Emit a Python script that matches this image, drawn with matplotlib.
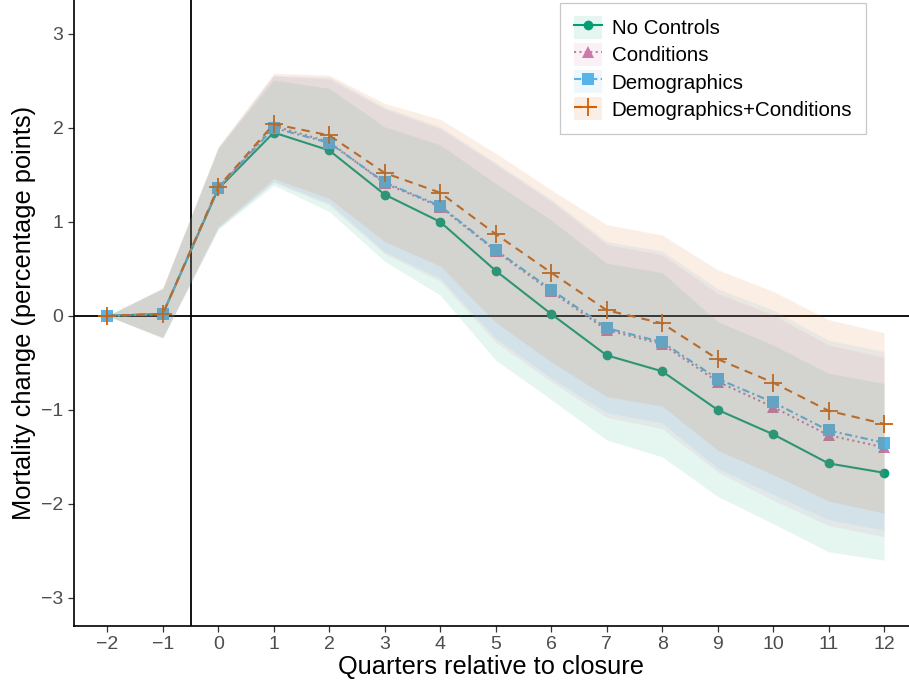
import numpy as np
import matplotlib.pyplot as plt
from matplotlib.lines import Line2D
from matplotlib.patches import Patch

plt.rcParams['font.family'] = ['Liberation Sans', 'DejaVu Sans']

quarters = [-2, -1, 0, 1, 2, 3, 4, 5, 6, 7, 8, 9, 10, 11, 12]

# No Controls
nc_est = [0, 0.02, 1.35, 1.95, 1.76, 1.29, 1.00, 0.48, 0.02, -0.42, -0.59, -1.00, -1.26, -1.57, -1.67]
nc_up = [0, 0.29, 1.78, 2.51, 2.42, 2.01, 1.82, 1.41, 1.02, 0.56, 0.46, -0.06, -0.31, -0.61, -0.72]
nc_lo = [0, -0.24, 0.92, 1.39, 1.11, 0.58, 0.22, -0.47, -0.89, -1.32, -1.50, -1.92, -2.21, -2.51, -2.60]
# Conditions
co_est = [0, 0.02, 1.36, 2.02, 1.85, 1.41, 1.16, 0.69, 0.26, -0.15, -0.30, -0.70, -0.97, -1.27, -1.40]
co_up = [0, 0.29, 1.79, 2.55, 2.52, 2.20, 1.99, 1.61, 1.22, 0.76, 0.65, 0.24, 0.01, -0.31, -0.44]
co_lo = [0, -0.23, 0.93, 1.42, 1.18, 0.66, 0.37, -0.28, -0.70, -1.08, -1.20, -1.66, -1.96, -2.23, -2.35]
# Demographics
de_est = [0, 0.02, 1.36, 2.00, 1.84, 1.42, 1.17, 0.70, 0.28, -0.13, -0.28, -0.67, -0.92, -1.22, -1.35]
de_up = [0, 0.29, 1.79, 2.56, 2.54, 2.22, 2.01, 1.63, 1.24, 0.79, 0.69, 0.29, 0.06, -0.26, -0.38]
de_lo = [0, -0.23, 0.94, 1.43, 1.20, 0.68, 0.40, -0.24, -0.66, -1.03, -1.14, -1.62, -1.90, -2.17, -2.28]
# Demographics+Conditions
dc_est = [0, 0.02, 1.37, 2.04, 1.92, 1.52, 1.31, 0.87, 0.46, 0.06, -0.08, -0.46, -0.71, -1.01, -1.15]
dc_up = [0, 0.30, 1.80, 2.58, 2.56, 2.26, 2.09, 1.73, 1.34, 0.97, 0.86, 0.49, 0.26, -0.04, -0.18]
dc_lo = [0, -0.23, 0.95, 1.46, 1.25, 0.79, 0.53, -0.07, -0.49, -0.86, -0.96, -1.43, -1.69, -1.97, -2.10]

labels = ["No Controls", "Conditions", "Demographics", "Demographics+Conditions"]
colors = ["#009E73", "#CC79A7", "#56B4E9", "#D55E00"]
markers = ["o", "^", "s", "+"]
msizes = [7, 8, 8, 13]
styles = ["-", (0, (1, 1.6)), (0, (3.5, 1.6, 1, 1.6)), (0, (4, 3))]
ests = [nc_est, co_est, de_est, dc_est]
ups = [nc_up, co_up, de_up, dc_up]
los = [nc_lo, co_lo, de_lo, dc_lo]

fig = plt.figure(figsize=(9.09, 6.84), dpi=100)
ax = fig.add_axes([0.0814, 0.0848, 0.9186, 0.9152])

ax.axhline(0, color="black", lw=1.3, zorder=1)
ax.axvline(-0.5, color="black", lw=1.3, zorder=1)

for est, c, m, ms, ls in zip(ests, colors, markers, msizes, styles):
    ax.plot(quarters, est, color=c, marker=m, markersize=ms, ls=ls, lw=1.5,
            markeredgewidth=1.3 if m == "+" else 0, zorder=2)
for lo, up, c in zip(los, ups, colors):
    ax.fill_between(quarters, lo, up, color=c, alpha=0.1, lw=0, zorder=3)

ax.set_xlim(-2.6, 12.45)
ax.set_ylim(-3.30, 3.36)
ax.set_xticks(quarters)
ax.set_yticks([-3, -2, -1, 0, 1, 2, 3])
for s in ["top", "right"]:
    ax.spines[s].set_visible(False)
for s in ["left", "bottom"]:
    ax.spines[s].set_linewidth(1.2)
ax.tick_params(axis="both", length=4, width=0.9, color="#333333",
               labelcolor="#4D4D4D", labelsize=14)
ax.set_xlabel("Quarters relative to closure", fontsize=18.3, labelpad=1)
ax.set_ylabel("Mortality change (percentage points)", fontsize=18.3, labelpad=4)

handles = []
for c, m, ms, ls in zip(colors, markers, msizes, styles):
    bg = Patch(facecolor=c, alpha=0.1, edgecolor="none")
    ln = Line2D([], [], color=c, marker=m, markersize=ms, ls=ls, lw=1.5,
                markeredgewidth=1.3 if m == "+" else 0)
    handles.append((bg, ln))
leg = ax.legend(handles, labels, loc="upper right", bbox_to_anchor=(0.948, 0.996),
                borderaxespad=0, fontsize=14.8, frameon=True, fancybox=False,
                edgecolor="#BBBBBB", handlelength=1.4, handleheight=1.35,
                handletextpad=0.45, labelspacing=0.2, borderpad=0.65)
leg.get_frame().set_linewidth(0.9)

fig.savefig("out.png", dpi=100)
